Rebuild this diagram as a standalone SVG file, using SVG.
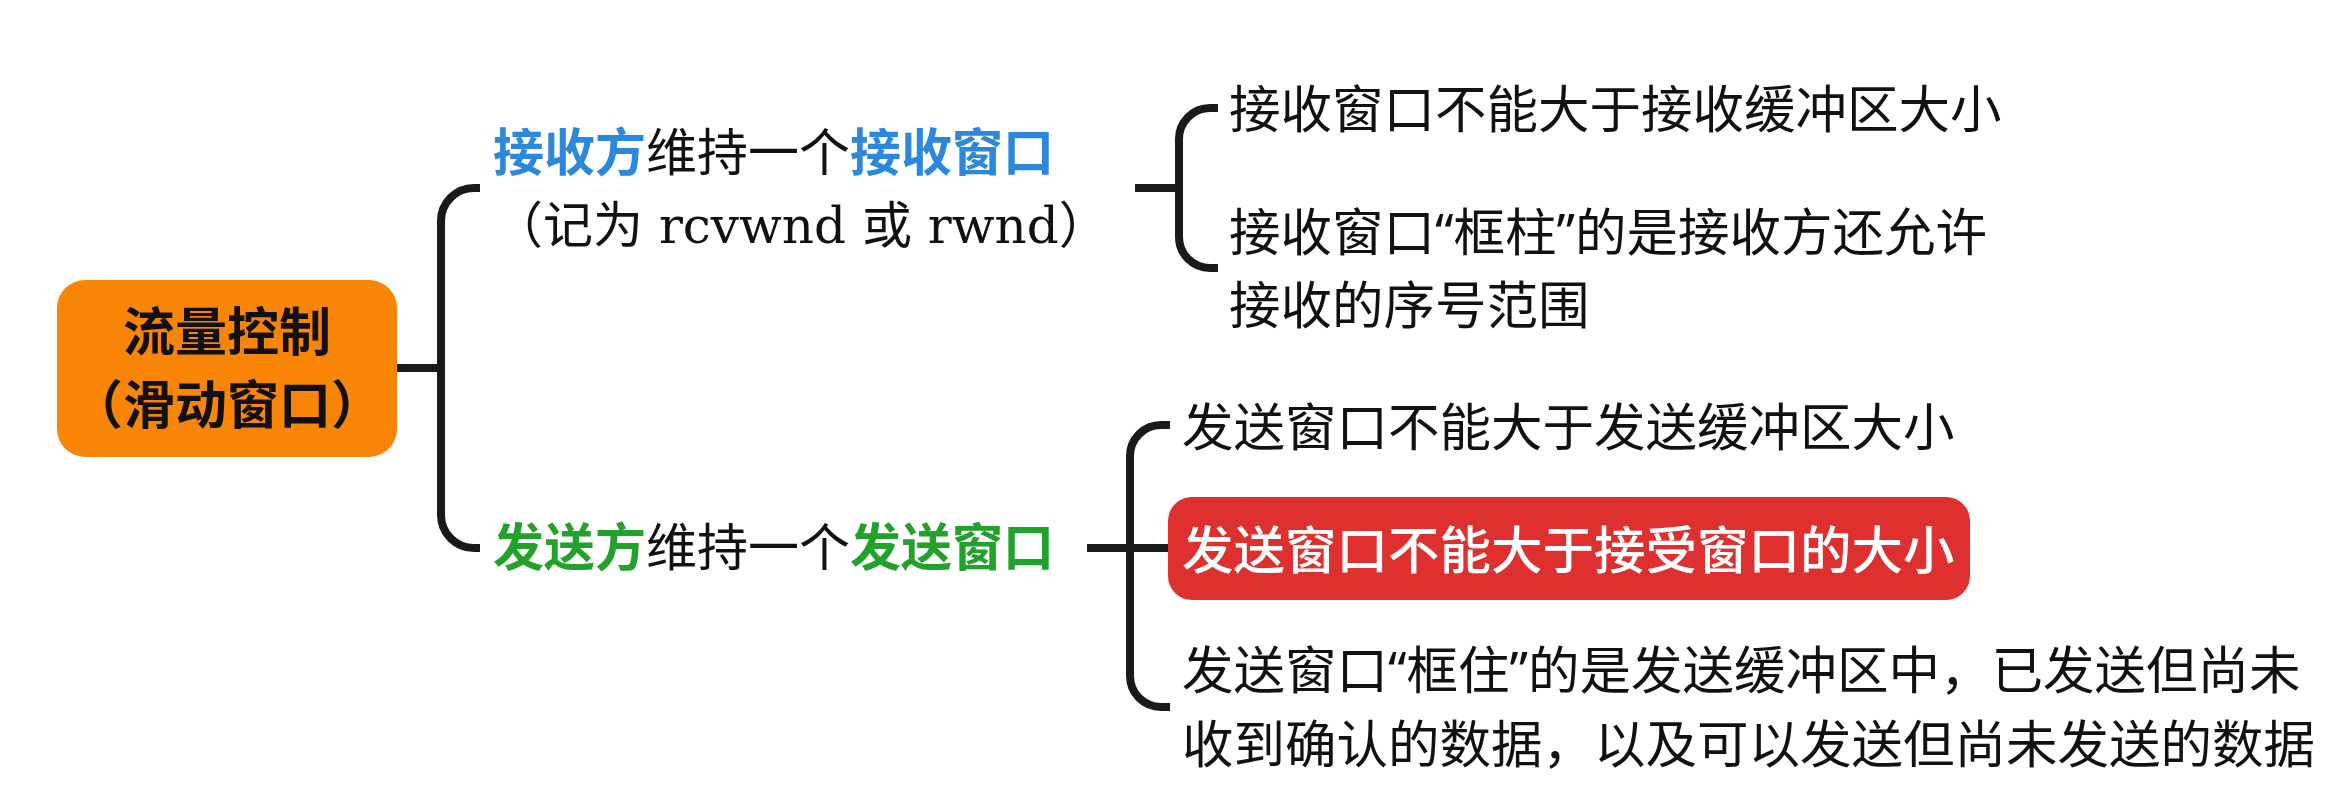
<svg xmlns="http://www.w3.org/2000/svg" width="2326" height="812" viewBox="0 0 2326 812">
  <style>
    .cjk { font-family: "Noto Sans", "Noto Sans CJK SC", sans-serif; }
    .txt { font-size: 51.5px; fill: #111111; font-weight: 400; }
    .lead { font-size: 51px; fill: #111111; font-weight: 400; }
    .blue { fill: #2B88DC; font-weight: 700; }
    .green { fill: #23A22B; font-weight: 700; }
    .conn { fill: none; stroke: #1a1a1a; stroke-width: 8; stroke-linecap: butt; stroke-linejoin: round; }
  </style>
  <rect width="2326" height="812" fill="#ffffff"/>

  <g id="connectors">
    <path class="conn" d="M397,368 H441"/>
    <path class="conn" d="M480,188 H474 A33,33 0 0 0 441,221 V515 A33,33 0 0 0 474,548 H480"/>
    <path class="conn" d="M1135,188 H1179"/>
    <path class="conn" d="M1218,108 H1210 A31,31 0 0 0 1179,139 V237 A31,31 0 0 0 1210,268 H1218"/>
    <path class="conn" d="M1087,548 H1168"/>
    <path class="conn" d="M1170,425 H1161 A31,31 0 0 0 1130,456 V676 A31,31 0 0 0 1161,707 H1170"/>
  </g>

  <g id="root">
    <rect x="57" y="280" width="340" height="177" rx="28" ry="28" fill="#F98506"/>
    <text class="cjk" x="227" y="351" font-size="52" font-weight="700" fill="#111" text-anchor="middle">流量控制</text>
    <text class="cjk" x="227" y="424" font-size="52" font-weight="700" fill="#111" text-anchor="middle">（滑动窗口）</text>
  </g>

  <g id="receiver">
    <text class="cjk lead" x="493" y="171"><tspan class="blue">接收方</tspan>维持一个<tspan class="blue">接收窗口</tspan></text>
    <text x="493" y="243" font-size="50" fill="#111"><tspan font-family="Noto Sans CJK SC, sans-serif">（记为</tspan><tspan font-family="DejaVu Serif, serif"> rcvwnd </tspan><tspan font-family="Noto Sans CJK SC, sans-serif">或</tspan><tspan font-family="DejaVu Serif, serif"> rwnd</tspan><tspan font-family="Noto Sans CJK SC, sans-serif">）</tspan></text>
  </g>

  <g id="recv-limit">
    <text class="cjk txt" x="1229" y="128">接收窗口不能大于接收缓冲区大小</text>
  </g>

  <g id="recv-range">
    <text class="cjk txt" x="1229" y="251">接收窗口“框柱”的是接收方还允许</text>
    <text class="cjk txt" x="1229" y="324">接收的序号范围</text>
  </g>

  <g id="sender">
    <text class="cjk lead" x="493" y="566"><tspan class="green">发送方</tspan>维持一个<tspan class="green">发送窗口</tspan></text>
  </g>

  <g id="send-limit-buffer">
    <text class="cjk txt" x="1182" y="446">发送窗口不能大于发送缓冲区大小</text>
  </g>

  <g id="send-limit-rwnd">
    <rect x="1168" y="497" width="802" height="103" rx="24" ry="24" fill="#DF3030"/>
    <text class="cjk" x="1182" y="569" font-size="51.5" font-weight="500" fill="#ffffff">发送窗口不能大于接受窗口的大小</text>
  </g>

  <g id="send-range">
    <text class="cjk txt" x="1182" y="689">发送窗口“框住”的是发送缓冲区中，已发送但尚未</text>
    <text class="cjk txt" x="1182" y="763">收到确认的数据，以及可以发送但尚未发送的数据</text>
  </g>
</svg>
